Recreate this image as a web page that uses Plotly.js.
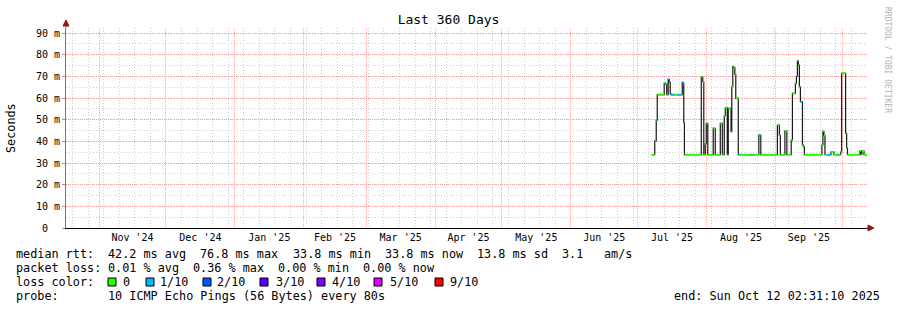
<!DOCTYPE html>
<html><head><meta charset="utf-8">
<script src="https://cdn.plot.ly/plotly-3.0.1.min.js"></script>
<style>html,body{margin:0;padding:0;background:#fff}</style>
</head><body><div id="chart" style="width:897px;height:310px"></div>
<script>
// ---------- data ----------
const rangeStart = '2024-10-17 02:31:10';
const rangeEnd = '2025-10-12 02:31:10';
const monthTickStart = '2024-11-01';
const weekTickStart = '2024-10-20';

const sampleTimes = [
'2025-07-07 08:00','2025-07-08 17:00','2025-07-09 09:00','2025-07-09 20:00','2025-07-12 23:00',
'2025-07-13 15:00','2025-07-14 02:00','2025-07-14 18:00','2025-07-15 05:00','2025-07-15 16:00',
'2025-07-16 00:00','2025-07-17 12:00','2025-07-19 00:00','2025-07-20 12:00','2025-07-21 02:00',
'2025-07-21 12:00','2025-07-21 18:00','2025-07-22 01:00','2025-07-29 15:00','2025-07-30 07:00',
'2025-07-30 18:00','2025-07-31 10:00','2025-07-31 21:00','2025-08-01 13:00','2025-08-04 00:00',
'2025-08-04 22:00','2025-08-07 04:00','2025-08-08 02:00','2025-08-08 23:00','2025-08-09 10:00',
'2025-08-10 08:00','2025-08-10 18:00','2025-08-11 16:00','2025-08-12 00:00','2025-08-12 08:00',
'2025-08-12 19:00','2025-08-13 06:00','2025-08-13 17:00','2025-08-14 03:00','2025-08-15 06:00',
'2025-08-15 18:00','2025-08-20 20:00','2025-08-21 16:00','2025-08-24 12:00','2025-08-25 09:00',
'2025-09-01 20:00','2025-09-02 17:00','2025-09-03 04:00','2025-09-05 05:00','2025-09-06 02:00',
'2025-09-08 01:00','2025-09-08 14:00','2025-09-09 22:00','2025-09-10 09:00','2025-09-10 20:00',
'2025-09-11 06:00','2025-09-11 17:00','2025-09-12 04:00','2025-09-13 02:00','2025-09-13 12:00',
'2025-09-13 23:00','2025-09-21 20:00','2025-09-22 07:00','2025-09-22 18:00','2025-09-23 05:00',
'2025-09-24 12:00','2025-09-25 21:00','2025-09-27 06:00','2025-09-28 14:00','2025-09-29 10:00',
'2025-09-30 06:00','2025-09-30 17:00','2025-10-02 12:00','2025-10-02 23:00','2025-10-03 08:00',
'2025-10-08 23:00','2025-10-09 09:00','2025-10-09 20:00','2025-10-10 18:00','2025-10-12 02:31:10'
];
const medianMs = [
33.8,40.2,49.8,61.6,66.8,
66.4,61.5,68.6,67.2,62.0,
61.5,61.5,61.5,61.5,67.2,
66.5,48.6,33.8,69.8,67.5,
33.8,38.8,48.3,33.8,46.0,
33.8,48.3,33.8,51.7,55.5,
33.8,55.2,55.0,44.5,65.2,
74.5,74.0,70.9,59.8,33.8,
33.8,33.8,33.8,42.9,33.8,
47.5,42.9,33.8,44.8,33.8,
40.6,62.1,66.7,70.0,77.1,
75.2,65.2,58.3,38.3,37.5,
33.8,38.3,44.6,42.9,33.8,
33.8,35.0,33.8,33.8,33.8,
35.0,71.4,43.7,37.0,33.8,
35.5,34.0,35.5,33.8,33.8
];
// loss level index per sample (0 = no loss, 1 = 1/10)
const sampleLoss = [
0,1,1,0,1,
0,0,1,1,1,
1,0,1,0,1,
0,0,0,0,0,
0,0,0,0,0,
0,0,0,0,0,
0,0,0,0,0,
0,0,0,0,1,
0,1,0,1,0,
0,0,0,0,0,
0,0,0,1,0,
0,0,1,0,0,
0,0,0,0,0,
1,0,0,1,0,
0,0,0,0,0,
0,0,0,0,0
];

const yTickValues = [0,10,20,30,40,50,60,70,80,90];
const yTickLabels = ['0\u00a0\u00a0','10 m','20 m','30 m','40 m','50 m','60 m','70 m','80 m','90 m'];

const lossLabels = ['0','1/10','2/10','3/10','4/10','5/10','9/10'];
const lossColors = ['#26ff00','#00b8ff','#0059ff','#5e00ff','#7e00ff','#dd00ff','#ff0000'];

const statMedian = ['median rtt:','42.2 ms avg','76.8 ms max','33.8 ms min','33.8 ms now','13.8 ms sd','3.1','am/s'];
const statLoss = ['packet loss:','0.01 % avg','0.36 % max','0.00 % min','0.00 % now'];
const probeText = ['probe:','10 ICMP Echo Pings (56 Bytes) every 80s'];
const endText = 'end: Sun Oct 12 02:31:10 2025';
const titleText = 'Last 360 Days';
const yTitle = 'Seconds';
const watermark = 'RRDTOOL / TOBI OETIKER';

// ---------- geometry ----------
const W = 897, H = 310;
const L = 66, T = 28, PW = 801, PH = 200;
const px = x => (x - L) / PW;
const py = y => (T + PH - y) / PH;
const MONO = 'DejaVu Sans Mono';
const NB = s => s.replace(/ /g, '\u00a0');

// ---------- traces ----------
const traces = [];
traces.push({
  type:'scatter', mode:'lines', x: sampleTimes, y: medianMs,
  line:{shape:'hv', color:'#1a1a1a', width:1.2}, hoverinfo:'skip', showlegend:false
});
[0,1].forEach(lvl => {
  const xs = [], ys = [];
  for (let i = 0; i < sampleTimes.length - 1; i++) {
    if (sampleLoss[i] === lvl) {
      xs.push(sampleTimes[i], sampleTimes[i+1], null);
      ys.push(medianMs[i], medianMs[i], null);
    }
  }
  traces.push({type:'scatter', mode:'lines', x: xs, y: ys, connectgaps:false,
    line:{color: lossColors[lvl], width:2}, hoverinfo:'skip', showlegend:false});
});

// ---------- annotations ----------
const ann = [];
function txt(text, x, y, size, opts) {
  ann.push(Object.assign({
    text: NB(text), xref:'paper', yref:'paper', x: px(x), y: py(y),
    xanchor:'left', yanchor:'middle', showarrow:false, borderpad:0, borderwidth:0,
    font:{family:MONO, size:size, color:'#000'}
  }, opts || {}));
}
const CW = 7.09; // legend char advance
const col = k => 16 + CW * k;
const medCols = [0,13,26,39,52,65,77,83];
statMedian.forEach((s,i) => txt(s, col(medCols[i]), 254, 11.8));
const lossCols = [0,13,25,37,49];
statLoss.forEach((s,i) => txt(s, col(lossCols[i]), 268, 11.8));
txt('loss color:', 16, 282, 11.8);
const boxX = [108,146,203,260,317,374,435];
const labX = [123,160,217,276,332,390,450];
lossLabels.forEach((s,i) => txt(s, labX[i], 282, 11.8));
txt(probeText[0], 16, 296, 11.8);
txt(probeText[1], col(13), 296, 11.8);
txt(endText, 880, 296, 11.8, {xanchor:'right'});
txt(yTitle, 11, 128, 11.8, {xanchor:'center', textangle:-90});
txt(watermark, 888, 60, 8, {xanchor:'center', textangle:90, font:{family:MONO, size:8, color:'#b4b4b4'}});

// ---------- shapes ----------
const shapes = [];
lossColors.forEach((c,i) => {
  shapes.push({type:'rect', xref:'paper', yref:'paper',
    x0: px(boxX[i]), x1: px(boxX[i] + 8), y0: py(286), y1: py(278),
    fillcolor: c, line:{color:'#000', width:1}});
});
const arrowC = '#8b1a1a';
shapes.push({type:'line', xref:'paper', yref:'paper', x0:0, x1:0, y0:1, y1:py(24), line:{color:'#777', width:1}});
shapes.push({type:'path', xref:'paper', yref:'paper', fillcolor:arrowC, line:{color:arrowC, width:1},
  path:`M ${px(L-3)},${py(26)} L ${px(L+3)},${py(26)} L ${px(L)},${py(20)} Z`});
shapes.push({type:'line', xref:'paper', yref:'paper', x0:1, x1:px(870), y0:0, y1:0, line:{color:'#000', width:1}});
shapes.push({type:'path', xref:'paper', yref:'paper', fillcolor:arrowC, line:{color:arrowC, width:1},
  path:`M ${px(868)},${py(225)} L ${px(868)},${py(231)} L ${px(874)},${py(228)} Z`});

// ---------- layout ----------
const majorGrid = 'rgba(245,110,110,0.55)';
const minorGrid = 'rgba(175,175,175,0.6)';
const layout = {
  width: W, height: H,
  margin:{l:L, r:W-L-PW, t:T, b:H-T-PH, pad:0},
  paper_bgcolor:'#fff', plot_bgcolor:'#fff',
  showlegend:false,
  title:{text:titleText, font:{family:MONO, size:13, color:'#000'},
    x:0.5, xref:'container', xanchor:'center', y:1-19.5/H, yref:'container', yanchor:'middle'},
  xaxis:{type:'date', range:[rangeStart, rangeEnd], fixedrange:true,
    tick0: monthTickStart, dtick:'M1', ticklabelmode:'period', tickformat:"%b '%y",
    ticks:'', showgrid:true, gridcolor:majorGrid, griddash:'1px,1px', gridwidth:1,
    minor:{tick0: weekTickStart, dtick: 7*86400000, showgrid:true, gridcolor:minorGrid, griddash:'1px,2px', ticks:''},
    showline:true, linecolor:'#000', linewidth:1, zeroline:false,
    tickfont:{family:MONO, size:10, color:'#000'}},
  yaxis:{range:[0, 92.31], fixedrange:true,
    tickmode:'array', tickvals: yTickValues, ticktext: yTickLabels,
    ticks:'outside', ticklen:3, tickcolor:'#d08080',
    showgrid:true, gridcolor:majorGrid, griddash:'1px,1px', gridwidth:1,
    minor:{tickmode:'linear', tick0:0, dtick:5, showgrid:true, gridcolor:minorGrid, griddash:'1px,2px', ticks:''},
    showline:true, linecolor:'#777', linewidth:1, zeroline:false,
    tickfont:{family:MONO, size:10, color:'#000'}},
  annotations: ann, shapes: shapes
};
Plotly.newPlot('chart', traces, layout, {staticPlot:true, displayModeBar:false});
</script></body></html>
